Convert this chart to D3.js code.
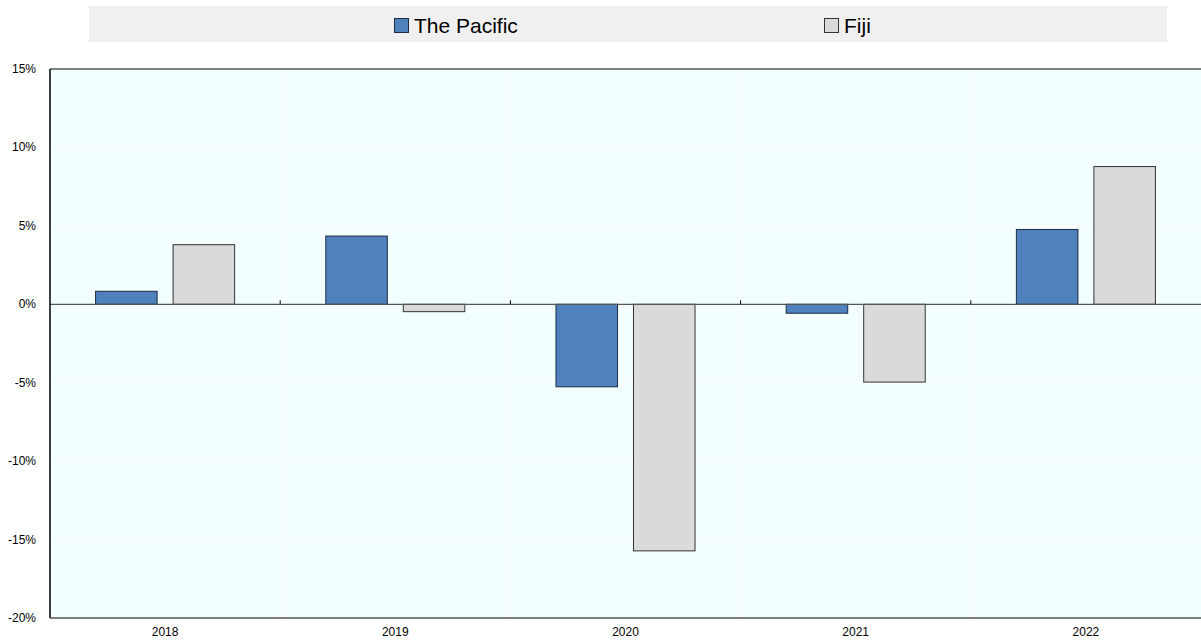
<!DOCTYPE html>
<html>
<head>
<meta charset="utf-8">
<script src="https://cdn.jsdelivr.net/npm/d3@7"></script>
<style>
  body { margin: 0; background: #fff; }
  text { font-family: "Liberation Sans", Arial, sans-serif; }
</style>
</head>
<body>
<script>
var years = ["2018", "2019", "2020", "2021", "2022"];
var seriesNames = ["The Pacific", "Fiji"];
var pacific = [0.83, 4.35, -5.26, -0.57, 4.77];
var fiji = [3.8, -0.47, -15.72, -4.96, 8.78];
var yTicks = [15, 10, 5, 0, -5, -10, -15, -20];
var colors = ["#4f81bd", "#dadada"];
var strokes = ["#1e2b40", "#333333"];

var width = 1201, height = 641;
var margin = {top: 69, right: 0, bottom: 23, left: 50};

var svg = d3.select("body").append("svg")
  .attr("width", width)
  .attr("height", height);

var x = d3.scaleBand()
  .domain(years)
  .range([margin.left, width - margin.right]);

var x1 = d3.scaleBand()
  .domain(seriesNames)
  .range([0, x.bandwidth()])
  .paddingInner(0.206)
  .paddingOuter(0.588);

var y = d3.scaleLinear()
  .domain([-20, 15])
  .range([height - margin.bottom, margin.top]);

// plot background
svg.append("rect")
  .attr("x", margin.left).attr("y", margin.top)
  .attr("width", width - margin.left - margin.right)
  .attr("height", y(-20) - y(15))
  .attr("fill", "#f3ffff");

// faint white gridlines
svg.append("g").selectAll("line")
  .data(yTicks)
  .enter().append("line")
  .attr("x1", margin.left).attr("x2", width)
  .attr("y1", function(d){ return y(d); })
  .attr("y2", function(d){ return y(d); })
  .attr("stroke", "#ffffff").attr("stroke-width", 1);

svg.append("g").selectAll("line")
  .data(years.slice(1))
  .enter().append("line")
  .attr("x1", function(d){ return x(d); })
  .attr("x2", function(d){ return x(d); })
  .attr("y1", margin.top).attr("y2", y(-20))
  .attr("stroke", "#ffffff").attr("stroke-width", 1);

// bars
var data = years.map(function(yr, i){
  return {year: yr, values: [
    {name: seriesNames[0], v: pacific[i], k: 0},
    {name: seriesNames[1], v: fiji[i], k: 1}
  ]};
});

var groups = svg.append("g").selectAll("g")
  .data(data)
  .enter().append("g")
  .attr("transform", function(d){ return "translate(" + x(d.year) + ",0)"; });

groups.selectAll("rect")
  .data(function(d){ return d.values; })
  .enter().append("rect")
  .attr("x", function(d){ return x1(d.name); })
  .attr("width", x1.bandwidth())
  .attr("y", function(d){ return y(Math.max(0, d.v)); })
  .attr("height", function(d){ return Math.abs(y(d.v) - y(0)); })
  .attr("fill", function(d){ return colors[d.k]; })
  .attr("stroke", function(d){ return strokes[d.k]; })
  .attr("stroke-width", 1);

// zero line with small ticks at category boundaries
svg.append("line")
  .attr("x1", margin.left).attr("x2", width)
  .attr("y1", y(0)).attr("y2", y(0))
  .attr("stroke", "#555").attr("stroke-width", 1.2);

svg.append("g").selectAll("line")
  .data(years.slice(1))
  .enter().append("line")
  .attr("x1", function(d){ return x(d); })
  .attr("x2", function(d){ return x(d); })
  .attr("y1", y(0) - 4).attr("y2", y(0))
  .attr("stroke", "#000").attr("stroke-width", 1);

// frame: left, top, bottom
svg.append("line")
  .attr("x1", margin.left).attr("x2", width)
  .attr("y1", margin.top).attr("y2", margin.top)
  .attr("stroke", "#000").attr("stroke-width", 1.2);
svg.append("line")
  .attr("x1", margin.left).attr("x2", margin.left)
  .attr("y1", margin.top).attr("y2", y(-20))
  .attr("stroke", "#000").attr("stroke-width", 1.5);
svg.append("line")
  .attr("x1", margin.left).attr("x2", width)
  .attr("y1", y(-20)).attr("y2", y(-20))
  .attr("stroke", "#000").attr("stroke-width", 1.2);

// y labels
svg.append("g").selectAll("text")
  .data(yTicks)
  .enter().append("text")
  .attr("x", 36)
  .attr("y", function(d){ return y(d) + 4; })
  .attr("text-anchor", "end")
  .attr("font-size", 12)
  .attr("fill", "#000")
  .text(function(d){ return d + "%"; });

// x labels
svg.append("g").selectAll("text")
  .data(years)
  .enter().append("text")
  .attr("x", function(d){ return x(d) + x.bandwidth() / 2; })
  .attr("y", 636)
  .attr("text-anchor", "middle")
  .attr("font-size", 12)
  .attr("fill", "#000")
  .text(function(d){ return d; });

// legend
svg.append("rect")
  .attr("x", 89).attr("y", 6)
  .attr("width", 1078).attr("height", 36)
  .attr("fill", "#f0f0f0");

var legendX = [394, 824];
var leg = svg.append("g").selectAll("g")
  .data(seriesNames)
  .enter().append("g")
  .attr("transform", function(d, i){ return "translate(" + legendX[i] + ",18)"; });

leg.append("rect")
  .attr("x", 0.5).attr("y", 0.5)
  .attr("width", 14).attr("height", 14)
  .attr("fill", function(d, i){ return colors[i]; })
  .attr("stroke", function(d, i){ return strokes[i]; })
  .attr("stroke-width", 1);

leg.append("text")
  .attr("x", 20).attr("y", 14.5)
  .attr("font-size", 21)
  .attr("fill", "#000")
  .text(function(d){ return d; });
</script>
</body>
</html>
